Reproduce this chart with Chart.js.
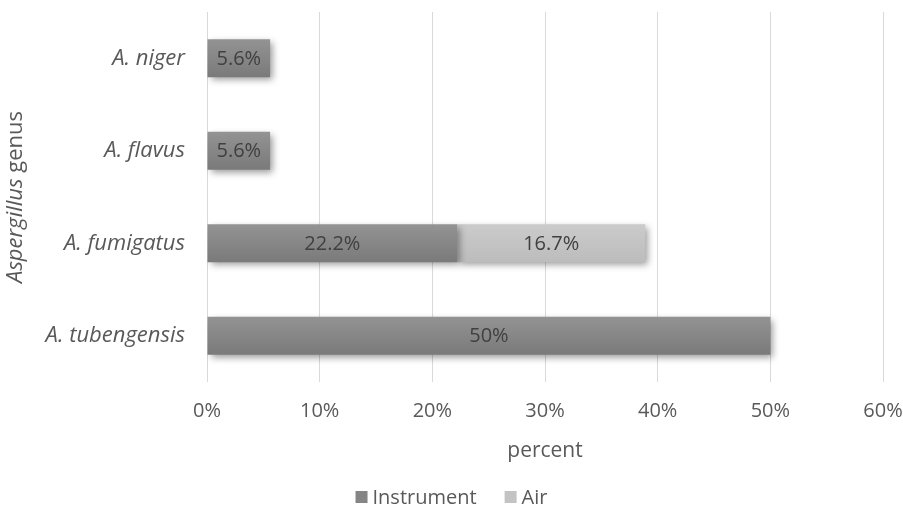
<!DOCTYPE html>
<html>
<head>
<meta charset="utf-8">
<script src="https://cdn.jsdelivr.net/npm/chart.js@4"></script>
<style>
  html, body { margin: 0; padding: 0; background: #ffffff; }
  #wrap { width: 903px; height: 508px; }
</style>
</head>
<body>
<div id="wrap"><canvas id="chart" width="903" height="508"></canvas></div>
<script>
const categories = ['A. niger', 'A. flavus', 'A. fumigatus', 'A. tubengensis'];
const instrumentValues = [5.6, 5.6, 22.2, 50];
const airValues = [null, null, 16.7, null];
const xTicks = [0, 10, 20, 30, 40, 50, 60];
const seriesNames = ['Instrument', 'Air'];
const seriesSwatches = ['#858585', '#c3c3c3'];

const FONT = "'Open Sans', 'Liberation Sans', sans-serif";
const TEXT = '#595959';

// vertical shading for each bar, lighter at the top edge
function barGradient(top, bottom) {
  return (ctx) => {
    const chart = ctx.chart;
    const ys = chart.scales.y;
    if (!ys || ctx.type !== 'data') return top;
    const c = ys.getPixelForValue(ctx.dataIndex);
    if (!Number.isFinite(c)) return top;
    const h = 19;
    const g = chart.ctx.createLinearGradient(0, c - h, 0, c + h);
    g.addColorStop(0, top);
    g.addColorStop(1, bottom);
    return g;
  };
}

// soft drop shadow under the bars
const barShadow = {
  id: 'barShadow',
  beforeDatasetDraw(chart) {
    const c = chart.ctx;
    c.save();
    c.shadowColor = 'rgba(0,0,0,0.4)';
    c.shadowBlur = 7;
    c.shadowOffsetX = 3;
    c.shadowOffsetY = 3;
  },
  afterDatasetDraw(chart) {
    chart.ctx.restore();
  }
};

// value labels in the middle of each segment
const valueLabels = {
  id: 'valueLabels',
  afterDatasetsDraw(chart) {
    const c = chart.ctx;
    c.save();
    c.font = '20px ' + FONT;
    c.fillStyle = '#404040';
    c.textAlign = 'center';
    c.textBaseline = 'middle';
    chart.data.datasets.forEach((ds, i) => {
      const meta = chart.getDatasetMeta(i);
      meta.data.forEach((bar, j) => {
        const v = ds.data[j];
        if (v === null || v === undefined || v === 0) return;
        const p = bar.getProps(['x', 'y', 'base'], true);
        c.fillText(v + '%', (p.x + p.base) / 2, p.y + 1);
      });
    });
    c.restore();
  }
};

// y axis title with the genus name in italics
const yTitle = {
  id: 'yTitle',
  afterDraw(chart) {
    const c = chart.ctx;
    const area = chart.chartArea;
    const italic = 'italic 22px ' + FONT;
    const normal = '22px ' + FONT;
    const a = 'Aspergillus ';
    const b = 'genus';
    c.save();
    c.font = italic; const wa = c.measureText(a).width;
    c.font = normal; const wb = c.measureText(b).width;
    c.translate(16, (area.top + area.bottom) / 2);
    c.rotate(-Math.PI / 2);
    c.fillStyle = TEXT;
    c.textBaseline = 'middle';
    c.textAlign = 'left';
    const start = -(wa + wb) / 2;
    c.font = italic; c.fillText(a, start, 0);
    c.font = normal; c.fillText(b, start + wa, 0);
    c.restore();
  }
};

// legend row centred under the chart
const bottomLegend = {
  id: 'bottomLegend',
  afterDraw(chart) {
    const c = chart.ctx;
    const y = 497;
    const box = 12, gapBox = 5, gapItem = 28;
    c.save();
    c.font = '20px ' + FONT;
    c.textBaseline = 'middle';
    c.textAlign = 'left';
    const widths = seriesNames.map(n => c.measureText(n).width);
    let total = 0;
    widths.forEach((w, i) => { total += box + gapBox + w + (i < widths.length - 1 ? gapItem : 0); });
    let x = chart.width / 2 - total / 2;
    seriesNames.forEach((n, i) => {
      c.fillStyle = seriesSwatches[i];
      c.fillRect(x, y - box / 2, box, box);
      x += box + gapBox;
      c.fillStyle = TEXT;
      c.fillText(n, x, y + 1);
      x += widths[i] + gapItem;
    });
    c.restore();
  }
};

new Chart(document.getElementById('chart'), {
  type: 'bar',
  data: {
    labels: categories,
    datasets: [
      {
        label: seriesNames[0],
        data: instrumentValues,
        backgroundColor: barGradient('#939393', '#7a7a7a'),
        borderWidth: 0,
        categoryPercentage: 1,
        barPercentage: 0.41
      },
      {
        label: seriesNames[1],
        data: airValues,
        backgroundColor: barGradient('#cbcbcb', '#bcbcbc'),
        borderWidth: 0,
        categoryPercentage: 1,
        barPercentage: 0.41
      }
    ]
  },
  options: {
    indexAxis: 'y',
    responsive: false,
    animation: false,
    layout: { padding: { top: 12, right: 20, bottom: 26, left: 0 } },
    scales: {
      x: {
        stacked: true,
        min: xTicks[0],
        max: xTicks[xTicks.length - 1],
        afterBuildTicks(scale) {
          scale.ticks = xTicks.map(v => ({ value: v }));
        },
        afterFit(scale) {
          scale.height = 100;
          scale.paddingLeft = 0;
          scale.paddingRight = 0;
        },
        ticks: {
          callback: v => v + '%',
          color: TEXT,
          font: { family: FONT, size: 20 },
          padding: 17,
          maxRotation: 0
        },
        grid: { color: '#d9d9d9', lineWidth: 1, drawTicks: false },
        border: { display: false },
        title: {
          display: true,
          text: 'percent',
          color: TEXT,
          font: { family: FONT, size: 21 },
          padding: { top: 0, bottom: 18 }
        }
      },
      y: {
        stacked: true,
        afterFit(scale) {
          scale.width = 207;
          scale.paddingTop = 0;
          scale.paddingBottom = 0;
        },
        ticks: {
          color: TEXT,
          font: { family: FONT, size: 22, style: 'italic' },
          padding: 22
        },
        grid: { display: false, drawTicks: false },
        border: { display: false }
      }
    },
    plugins: {
      legend: { display: false },
      tooltip: { enabled: false }
    }
  },
  plugins: [barShadow, valueLabels, yTitle, bottomLegend]
});
</script>
</body>
</html>
